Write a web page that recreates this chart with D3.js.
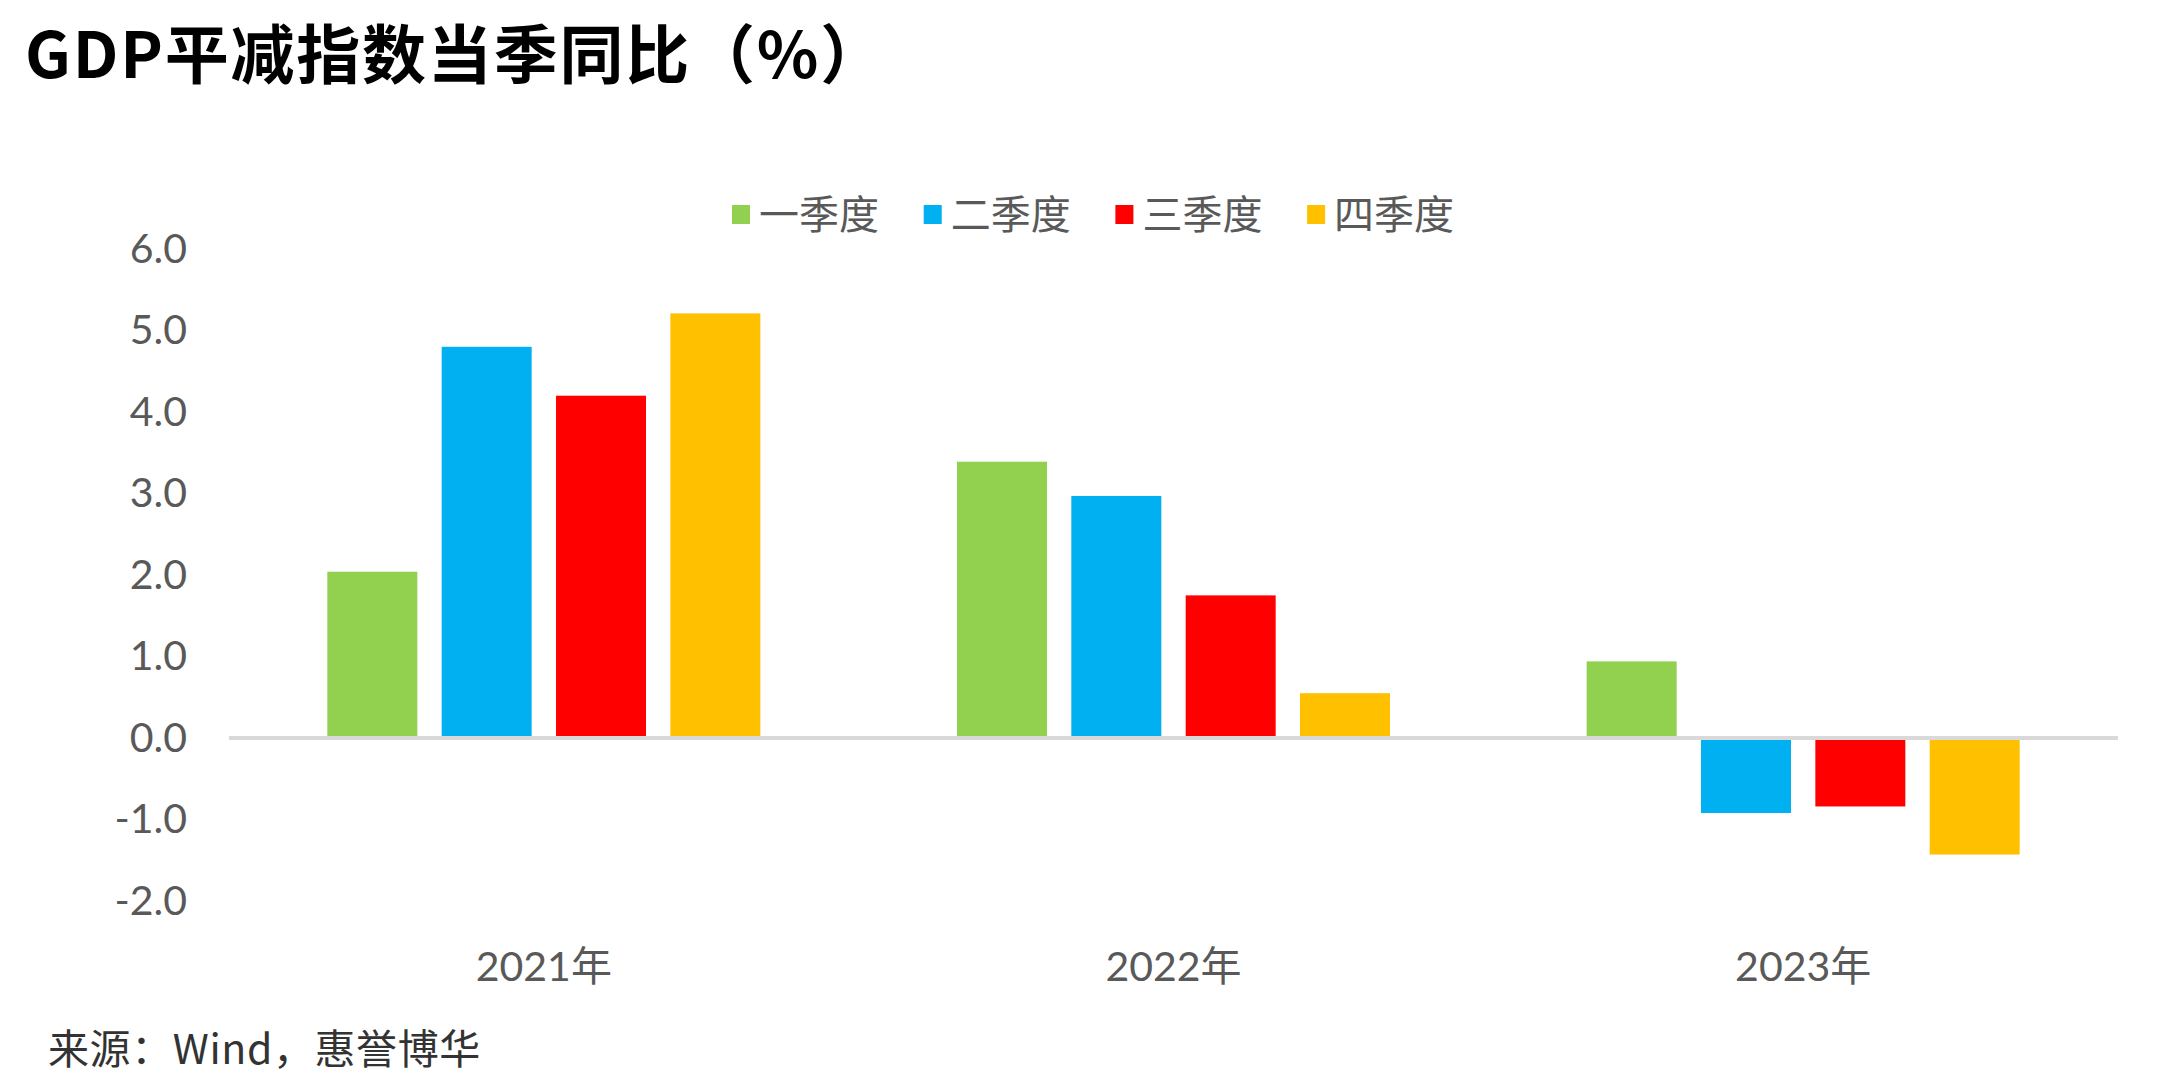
<!DOCTYPE html>
<html>
<head>
<meta charset="utf-8">
<script src="https://cdn.jsdelivr.net/npm/d3@7"></script>
<style>
  body { margin: 0; background: #fff; }
  svg { display: block; }
</style>
</head>
<body>
<div id="chart"></div>
<script>
// data
var years = ["2021年", "2022年", "2023年"];
var quarters = ["一季度", "二季度", "三季度", "四季度"];
var q1 = [2.04, 3.39, 0.94];
var q2 = [4.80, 2.97, -0.92];
var q3 = [4.20, 1.75, -0.84];
var q4 = [5.21, 0.55, -1.43];
var yTicks = [-2, -1, 0, 1, 2, 3, 4, 5, 6];
var colors = ["#92D050", "#00B0F0", "#FF0000", "#FFC000"];

var W = 2173, H = 1085;
var plot = {left: 229, right: 2118, top: 249, bottom: 901};

var series = [q1, q2, q3, q4];
var data = [];
years.forEach(function(yr, i){
  quarters.forEach(function(q, j){
    data.push({year: yr, quarter: q, value: series[j][i]});
  });
});

var svg = d3.select("#chart").append("svg")
    .attr("width", W)
    .attr("height", H);

svg.append("rect").attr("width", W).attr("height", H).attr("fill", "#fff");

var x0 = d3.scaleBand()
    .domain(years)
    .range([plot.left, plot.right])
    .padding(0);

var x1 = d3.scaleBand()
    .domain(quarters)
    .range([0, x0.bandwidth()])
    .paddingInner(0.213)
    .paddingOuter(0.86);

var y = d3.scaleLinear()
    .domain([-2, 6])
    .range([plot.bottom, plot.top]);

var color = d3.scaleOrdinal().domain(quarters).range(colors);

// title
svg.append("text")
    .attr("x", 25)
    .attr("y", 78)
    .attr("font-family", "'Noto Sans CJK SC', sans-serif")
    .attr("font-weight", 700)
    .attr("font-size", 64)
    .attr("letter-spacing", 1.8)
    .attr("fill", "#000")
    .text("GDP平减指数当季同比（%）");

// y axis
var yAxis = d3.axisLeft(y)
    .tickValues(yTicks)
    .tickSize(0)
    .tickPadding(42)
    .tickFormat(function(d){ return d.toFixed(1); });

svg.append("g")
    .attr("transform", "translate(" + plot.left + ",0)")
    .call(yAxis)
    .call(function(g){ g.select(".domain").remove(); })
    .selectAll("text")
    .attr("font-family", "Lato, 'Noto Sans CJK SC', sans-serif")
    .attr("font-size", 41)
    .attr("fill", "#595959");

// category labels at the bottom
var xAxis = d3.axisBottom(x0)
    .tickSize(0)
    .tickPadding(51);

svg.append("g")
    .attr("transform", "translate(0," + plot.bottom + ")")
    .call(xAxis)
    .call(function(g){ g.select(".domain").remove(); })
    .selectAll("text")
    .attr("font-family", "Lato, 'Noto Sans CJK SC', sans-serif")
    .attr("font-size", 41)
    .attr("fill", "#595959");

// bars
svg.append("g")
    .selectAll("rect")
    .data(data)
    .enter().append("rect")
    .attr("x", function(d){ return x0(d.year) + x1(d.quarter); })
    .attr("y", function(d){ return y(Math.max(d.value, 0)); })
    .attr("width", x1.bandwidth())
    .attr("height", function(d){ return Math.abs(y(d.value) - y(0)); })
    .attr("fill", function(d){ return color(d.quarter); });

// zero line
svg.append("line")
    .attr("x1", plot.left)
    .attr("x2", plot.right)
    .attr("y1", y(0))
    .attr("y2", y(0))
    .attr("stroke", "#d9d9d9")
    .attr("stroke-width", 4);

// legend
var legend = svg.append("g")
    .selectAll("g")
    .data(quarters)
    .enter().append("g")
    .attr("transform", function(d, i){ return "translate(" + (732 + i * 191.7) + ",205)"; });

legend.append("rect")
    .attr("width", 18)
    .attr("height", 19)
    .attr("fill", function(d){ return color(d); });

legend.append("text")
    .attr("x", 27)
    .attr("y", 24)
    .attr("font-family", "'Noto Sans CJK SC', sans-serif")
    .attr("font-size", 40)
    .attr("fill", "#595959")
    .text(function(d){ return d; });

// source
svg.append("text")
    .attr("x", 48)
    .attr("y", 1064)
    .attr("font-family", "'Noto Sans CJK SC', sans-serif")
    .attr("font-size", 41)
    .attr("letter-spacing", 0.6)
    .attr("fill", "#333")
    .text("来源：Wind，惠誉博华");
</script>
</body>
</html>
